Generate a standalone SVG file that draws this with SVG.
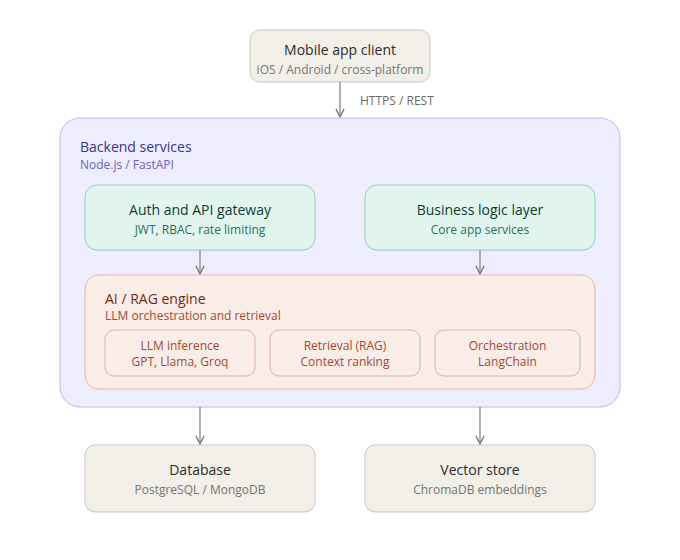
<svg xmlns="http://www.w3.org/2000/svg" width="680" height="560" viewBox="0 0 680 560">
<style>
text{font-family:"Open Sans","Noto Sans","Liberation Sans",sans-serif}
.t{font-size:14px;text-anchor:middle}
.s{font-size:12px;text-anchor:middle}
.gray rect{fill:#F1EFE8;stroke:#C9C7BE;stroke-width:1}
.gray .t{fill:#2C2C2A}.gray .s{fill:#76756F}
.green rect{fill:#E1F5EE;stroke:#8FCFB5;stroke-width:1}
.green .t{fill:#0B3D30}.green .s{fill:#2A6E5A}
.ai>rect{fill:#FAECE7;stroke:#E8B7A4;stroke-width:1}
.inner rect{fill:#FAECE7;stroke:#DDB2A3;stroke-width:1}
.inner text{fill:#A34A33;font-size:12px;text-anchor:middle}
.conn line{stroke:#7F7E79;stroke-width:1.2;fill:none}
</style>
<defs>
<marker id="arr" viewBox="0 0 10 10" refX="9" refY="5" markerWidth="8" markerHeight="8" orient="auto-start-reverse">
<path d="M1 1L9 5L1 9" fill="none" stroke="#7F7E79" stroke-width="1.5" stroke-linecap="round" stroke-linejoin="round"/>
</marker>
</defs>
<rect width="680" height="560" fill="#FFFFFF"/>
<g id="backend">
<rect x="60" y="118" width="560" height="289" rx="20" fill="#EEEDFE" stroke="#BDB8EE" stroke-width="1"/>
<text x="80" y="152" font-size="14" fill="#3C3489">Backend services</text>
<text x="80" y="169" font-size="12" fill="#6A61C2">Node.js / FastAPI</text>
</g>
<g id="mobile" class="gray">
<rect x="250" y="30" width="180" height="52" rx="10"/>
<text class="t" x="340" y="55">Mobile app client</text>
<text class="s" x="340" y="74">iOS / Android / cross-platform</text>
</g>
<g id="auth" class="green">
<rect x="85" y="185" width="230" height="65" rx="12"/>
<text class="t" x="200" y="215">Auth and API gateway</text>
<text class="s" x="200" y="234">JWT, RBAC, rate limiting</text>
</g>
<g id="business" class="green">
<rect x="365" y="185" width="230" height="65" rx="12"/>
<text class="t" x="480" y="215">Business logic layer</text>
<text class="s" x="480" y="234">Core app services</text>
</g>
<g id="ai" class="ai">
<rect x="85" y="275" width="510" height="114" rx="14"/>
<text x="105" y="304" font-size="14" fill="#712B13">AI / RAG engine</text>
<text x="105" y="320" font-size="12" fill="#A34A33">LLM orchestration and retrieval</text>
</g>
<g id="llm" class="inner">
<rect x="105" y="330" width="150" height="46" rx="9"/>
<text x="180" y="350">LLM inference</text>
<text x="180" y="366">GPT, Llama, Groq</text>
</g>
<g id="retrieval" class="inner">
<rect x="270" y="330" width="150" height="46" rx="9"/>
<text x="345" y="350">Retrieval (RAG)</text>
<text x="345" y="366">Context ranking</text>
</g>
<g id="orchestration" class="inner">
<rect x="435" y="330" width="145" height="46" rx="9"/>
<text x="507.5" y="350">Orchestration</text>
<text x="507.5" y="366">LangChain</text>
</g>
<g id="database" class="gray">
<rect x="85" y="445" width="230" height="67" rx="10"/>
<text class="t" x="200" y="475">Database</text>
<text class="s" x="200" y="494">PostgreSQL / MongoDB</text>
</g>
<g id="vector" class="gray">
<rect x="365" y="445" width="230" height="67" rx="10"/>
<text class="t" x="480" y="475">Vector store</text>
<text class="s" x="480" y="494">ChromaDB embeddings</text>
</g>
<g id="connectors" class="conn">
<line x1="340" y1="82" x2="340" y2="117" marker-end="url(#arr)"/>
<text x="360" y="105" font-size="12" fill="#6B6A65">HTTPS / REST</text>
<line x1="200" y1="250" x2="200" y2="274" marker-end="url(#arr)"/>
<line x1="480" y1="250" x2="480" y2="274" marker-end="url(#arr)"/>
<line x1="200" y1="407" x2="200" y2="444" marker-end="url(#arr)"/>
<line x1="480" y1="407" x2="480" y2="444" marker-end="url(#arr)"/>
</g>
</svg>
